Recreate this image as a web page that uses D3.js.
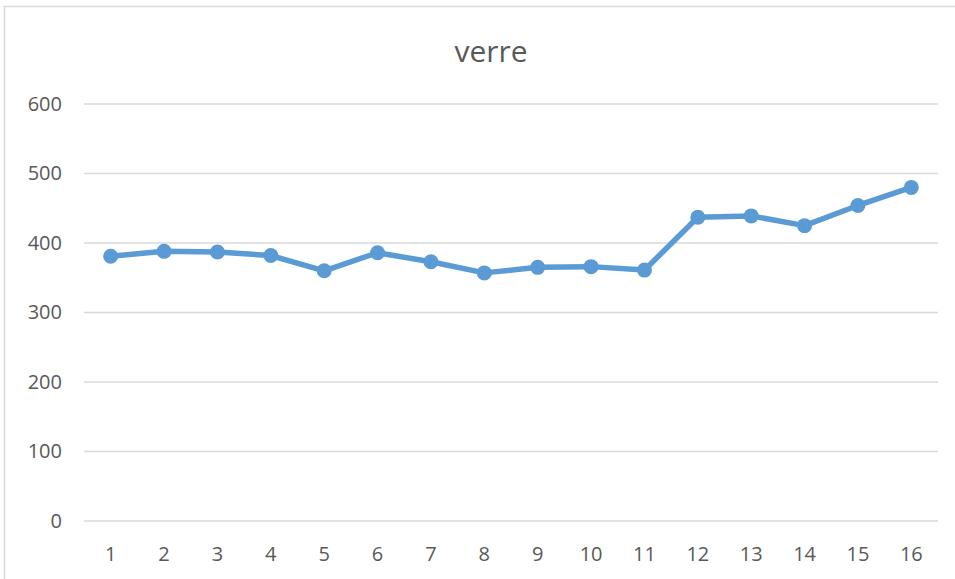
<!DOCTYPE html>
<html><head><meta charset="utf-8">
<script src="https://cdn.jsdelivr.net/npm/d3@7"></script>
<style>body{margin:0;background:#fff;} text{font-family:"Open Sans","Noto Sans",sans-serif;}</style>
</head><body><svg id="c" width="955" height="579"></svg>
<script>
const categories = ["1","2","3","4","5","6","7","8","9","10","11","12","13","14","15","16"];
const values = [381, 388, 387, 382, 360, 386, 373, 357, 365, 366, 361, 437, 439, 425, 454, 480];
const yTicks = [0, 100, 200, 300, 400, 500, 600];
const title = "verre";

const svg = d3.select("#c");
svg.append("rect").attr("x",4.5).attr("y",6.5).attr("width",960).attr("height",600)
  .attr("fill","#fff").attr("stroke","#d9d9d9").attr("stroke-width",1.5);

const mLeft = 84, mRight = 938, mTop = 104, mBottom = 521;
const x = d3.scaleBand().domain(categories).range([mLeft, mRight]);
const y = d3.scaleLinear().domain([0, 600]).range([mBottom, mTop]);
const font = '"Open Sans","Noto Sans",sans-serif';

svg.append("text").attr("x", 491).attr("y", 62).attr("text-anchor","middle")
  .attr("font-size", 30).attr("fill","#595959").style("font-family", font).text(title);

const grid = svg.append("g");
grid.selectAll("line").data(yTicks).join("line")
  .attr("x1", mLeft).attr("x2", mRight)
  .attr("y1", d => y(d)).attr("y2", d => y(d))
  .attr("stroke", "#d9d9d9").attr("stroke-width", 1.5);

const yAxis = svg.append("g").attr("transform", `translate(${mLeft},0)`)
  .call(d3.axisLeft(y).tickValues(yTicks).tickSize(0).tickPadding(22));
yAxis.select(".domain").remove();
yAxis.selectAll("text").attr("font-size", 20).attr("fill", "#595959").style("font-family", font);

const xAxis = svg.append("g").attr("transform", `translate(0,${mBottom})`)
  .call(d3.axisBottom(x).tickSize(0).tickPadding(0));
xAxis.select(".domain").remove();
xAxis.selectAll("text").attr("font-size", 20).attr("fill", "#595959").style("font-family", font)
  .attr("dy", null).attr("y", 40);

const cx = (d, i) => x(categories[i]) + x.bandwidth() / 2;
svg.append("path").datum(values)
  .attr("fill", "none").attr("stroke", "#5b9bd5").attr("stroke-width", 5.5)
  .attr("stroke-linejoin", "round").attr("stroke-linecap", "round")
  .attr("d", d3.line().x(cx).y(d => y(d)));

svg.append("g").selectAll("circle").data(values).join("circle")
  .attr("cx", cx).attr("cy", d => y(d)).attr("r", 7.5).attr("fill", "#5b9bd5");
</script></body></html>
